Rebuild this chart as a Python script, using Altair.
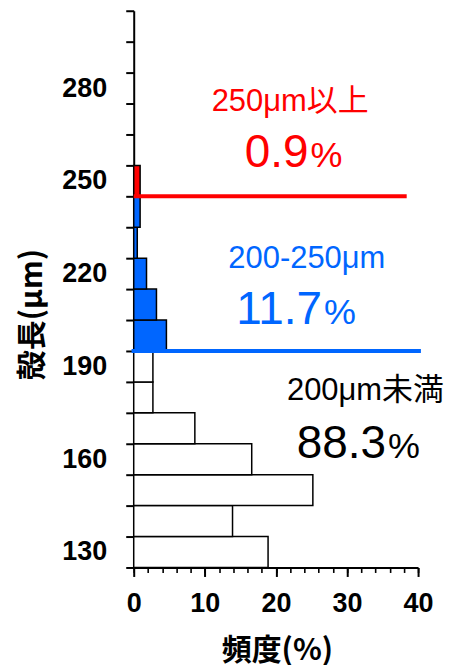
import altair as alt
import pandas as pd

# ---- data ----
bin_centers = [130, 140, 150, 160, 170, 180, 190, 200, 210, 220, 230, 240, 250]
frequency = [18.9, 13.9, 25.2, 16.6, 8.6, 2.7, 2.7, 4.6, 3.2, 1.8, 0.5, 0.9, 0.9]
group = ["lt200"] * 7 + ["200-250"] * 5 + ["ge250"]
bin_width = 10

y_edges = list(range(125, 306, 10))
y_labels = [130, 160, 190, 220, 250, 280]
x_major = [0, 10, 20, 30, 40]
x_minor = list(range(0, 41, 2))

group_domain = ["lt200", "200-250", "ge250"]
group_fill = ["#FFFFFF", "#0066FF", "#FF0000"]

# boundary lines
line_y = [245, 195]
line_x0 = [0, -0.3]
line_x1 = [38.4, 40.4]
line_color = ["#FF0000", "#0066FF"]

# annotations
label_texts = ["250μm以上", "200-250μm", "200μm未満"]
label_x = [22.0, 24.35, 32.6]
label_y = [272.5, 221.9, 179.0]
pct_numbers = ["0.9", "11.7", "88.3"]
pct_x = [24.6, 26.5, 35.5]
pct_y = [254.5, 203.8, 160.4]
ann_color = ["#FF0000", "#0066FF", "#000000"]

bars = pd.DataFrame({
    "center": bin_centers,
    "freq": frequency,
    "grp": group,
})
bars["lo"] = bars["center"] - bin_width / 2
bars["hi"] = bars["center"] + bin_width / 2
bars["zero"] = 0.0

lines = pd.DataFrame({"y": line_y, "x0": line_x0, "x1": line_x1, "c": line_color})
labels = pd.DataFrame({"x": label_x, "y": label_y, "t": label_texts, "c": ann_color})
nums = pd.DataFrame({"x": pct_x, "y": pct_y, "t": pct_numbers, "c": ann_color})
pcts = pd.DataFrame({"x": pct_x, "y": pct_y, "t": ["%"] * 3, "c": ann_color})

xscale = alt.Scale(domain=[0, 40], nice=False, zero=False)
yscale = alt.Scale(domain=[125, 305], nice=False, zero=False)

LAT = "Liberation Sans, Arial, 'Noto Sans CJK JP'"
CJK = "'Noto Sans CJK JP', Liberation Sans"

x_major_axis = alt.Axis(
    orient="bottom", values=x_major, tickSize=9, tickWidth=2, tickColor="black",
    domainColor="black", domainWidth=2, labelFont=LAT, labelFontSize=27,
    labelFontWeight="bold", labelColor="black", labelPadding=14, grid=False,
    labelFlush=False, labelOverlap=False, labelBound=False,
    title="頻度(%)", titleFont=CJK, titleFontSize=30, titleFontWeight="bold",
    titleColor="black", titleX=143.5, titleY=83, titleBaseline="middle",
    titleAlign="center",
)
y_tick_axis = alt.Axis(
    orient="left", values=y_edges, tickSize=8, tickWidth=2, tickColor="black",
    domainColor="black", domainWidth=2, labels=False, grid=False, title=None,
)
x_minor_axis = alt.Axis(
    orient="bottom", values=x_minor, tickSize=5, tickWidth=1.6, tickColor="black",
    domain=False, labels=False, grid=False, title=None,
)
y_label_axis = alt.Axis(
    orient="left", values=y_labels, ticks=False, tickSize=0, domain=False,
    labelFont=LAT, labelFontSize=27, labelFontWeight="bold", labelColor="black",
    labelPadding=27, grid=False, labelFlush=False, labelOverlap=False, labelBound=False,
    title="殻長(μm)", titleFont=CJK, titleFontSize=30, titleFontWeight="bold",
    titleColor="black", titleX=-101, titleY=304, titleBaseline="middle",
    titleAlign="center", titleAngle=270,
)

bar_layer = alt.Chart(bars).mark_rect(stroke="black", strokeWidth=1.5).encode(
    x=alt.X("zero:Q", scale=xscale, axis=x_major_axis),
    x2="freq:Q",
    y=alt.Y("lo:Q", scale=yscale, axis=y_tick_axis),
    y2="hi:Q",
    fill=alt.Fill("grp:N", scale=alt.Scale(domain=group_domain, range=group_fill), legend=None),
)

rule_layer = alt.Chart(lines).mark_rule(strokeWidth=4).encode(
    x=alt.X("x0:Q", scale=xscale, axis=x_minor_axis),
    x2="x1:Q",
    y=alt.Y("y:Q", scale=yscale, axis=y_label_axis),
    color=alt.Color("c:N", scale=None),
)

label_layer = alt.Chart(labels).mark_text(
    font=LAT, fontSize=31, align="center", baseline="alphabetic"
).encode(
    x=alt.X("x:Q", scale=xscale, axis=None),
    y=alt.Y("y:Q", scale=yscale, axis=None),
    text="t:N",
    color=alt.Color("c:N", scale=None),
)

num_layer = alt.Chart(nums).mark_text(
    font=LAT, fontSize=46, align="right", baseline="alphabetic"
).encode(
    x=alt.X("x:Q", scale=xscale, axis=None),
    y=alt.Y("y:Q", scale=yscale, axis=None),
    text="t:N",
    color=alt.Color("c:N", scale=None),
)

pct_layer = alt.Chart(pcts).mark_text(
    font=LAT, fontSize=36, align="left", baseline="alphabetic", dx=2
).encode(
    x=alt.X("x:Q", scale=xscale, axis=None),
    y=alt.Y("y:Q", scale=yscale, axis=None),
    text="t:N",
    color=alt.Color("c:N", scale=None),
)

chart = alt.layer(
    bar_layer, rule_layer, label_layer, num_layer, pct_layer
).resolve_axis(
    x="independent", y="independent"
).properties(
    width=285, height=558,
    padding={"left": 126, "top": 2, "right": 30, "bottom": 97},
    autosize=alt.AutoSizeParams(type="none"),
    background="white",
).configure_view(stroke=None)

chart.save("out.html", embed_options={"renderer": "svg", "actions": False})
